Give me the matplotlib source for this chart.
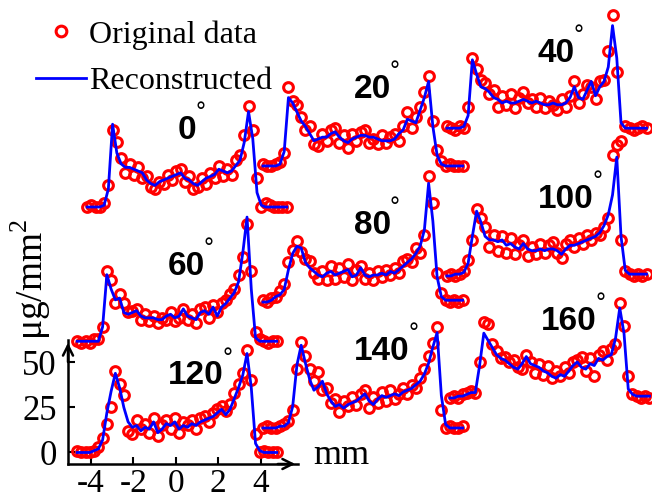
"""
projection profiles at several angles, measured vs reconstructed
"""

import numpy as np
import matplotlib.pyplot as plt

plt.rcParams["font.family"] = "Liberation Serif"
plt.rcParams["mathtext.fontset"] = "custom"
plt.rcParams["mathtext.rm"] = "Liberation Serif"
plt.rcParams["axes.unicode_minus"] = False

# sample positions (mm) of the 120 deg profile
x_mm = np.round(np.arange(48) * 0.2 - 4.64, 2)

angles = [0, 20, 40, 60, 80, 100, 120, 140, 160]

data_0 = [0,1,0,0,2,12,43,36,27,19, 24,18,22,16,17,11,10,14,13,18, 15,20,21,14,17,10,11,16,13,19,
          16,23,17,21,18,26,29,40,56,43, 16,0,2,1,0,0,0,0]
rec_0 = [0,0,0,0,1,10,46,30,24,22, 22,21,20,19,15,13,12,14,15,16, 17,18,19,16,15,13,12,14,16,17,
         18,21,20,19,20,23,26,36,53,38, 8,1,0,0,0,0,0,0]
data_20 = [1,0,0,1,2,7,44,36,34,27, 20,22,12,11,18,14,20,21,13,17, 10,18,14,19,20,13,15,12,17,13,
           16,18,14,22,30,21,27,33,41,50, 25,9,3,0,1,0,0,0]
rec_20 = [0,0,0,0,1,8,38,35,30,25, 22,18,14,15,16,16,18,19,16,14, 13,15,16,17,17,16,16,15,14,14,
          14,15,18,20,26,25,24,31,38,47, 22,6,1,0,0,0,0,0]
data_40 = [2,1,0,2,1,13,40,34,28,26, 20,22,13,19,14,20,12,18,21,15, 17,13,18,12,16,14,11,17,13,19,
           27,15,20,25,24,17,27,28,44,64, 32,-6,2,1,0,1,2,1]
rec_40 = [1,1,1,1,2,8,39,31,24,23, 21,18,17,15,16,15,15,16,17,16, 15,16,15,14,14,15,14,14,15,18,
          24,18,17,22,27,19,24,27,35,58, 40,4,1,1,1,1,1,1]
data_60 = [1,0,1,0,2,2,9,40,35,22, 27,22,17,18,19,13,16,12,15,11, 14,13,17,12,14,19,13,16,11,19,
           20,14,21,17,22,24,27,30,38,48, 66,40,6,2,1,0,1,1]
rec_60 = [1,1,1,1,1,1,9,38,30,24, 25,17,16,17,18,15,14,14,14,13, 13,15,16,14,15,19,15,14,13,17,
          18,16,20,15,20,22,25,28,34,50, 70,30,3,1,1,1,1,1]
data_80 = [1,0,2,3,6,10,22,29,34,28, 24,23,16,13,17,12,20,13,19,14, 21,12,18,20,13,16,12,17,14,18,
           15,19,16,23,24,22,30,27,37,70, 55,16,5,1,0,1,0,1]
rec_80 = [0,0,1,3,4,7,18,27,31,30, 22,19,17,15,14,16,17,15,16,17, 18,14,15,19,15,14,15,15,16,15,
          17,16,18,20,22,24,27,31,40,66, 45,14,3,1,1,1,1,1]
data_100 = [0,1,0,1,3,9,20,37,32,27, 16,23,14,22,13,21,12,17,20,11, 16,12,18,13,17,19,13,10,18,20,
            16,21,18,23,20,24,23,27,32,67, 73,20,3,1,0,1,0,1]
rec_100 = [0,0,1,1,2,7,22,36,30,22, 20,20,19,20,17,18,16,15,18,15, 14,14,15,14,15,15,14,12,15,17,
           17,18,19,20,21,22,24,28,34,45, 66,22,3,1,1,1,1,1]
data_120 = [1,0,0,0,1,3,8,16,25,45, 38,32,12,10,18,13,16,11,19,9, 15,18,13,19,11,17,15,18,13,19,
            20,17,22,24,26,23,27,33,38,44, 57,40,10,0,1,0,0,0]
rec_120 = [0,0,0,0,1,2,7,22,34,44, 36,25,17,14,15,12,14,13,17,11, 13,16,15,17,13,15,14,16,15,17,
           18,19,20,22,24,21,24,30,36,43, 55,36,5,1,0,0,0,0]
data_140 = [0,1,0,0,1,2,4,10,33,48, 40,33,26,31,21,22,14,16,9,15, 12,17,13,19,21,11,17,14,20,15,
            21,16,19,22,19,24,22,28,33,40, 47,56,10,0,1,0,0,1]
rec_140 = [0,0,0,0,1,1,3,12,35,46, 36,27,21,23,26,19,15,12,13,11, 13,14,15,17,19,15,13,16,18,17,
           18,19,18,20,21,22,24,26,30,36, 45,53,18,2,0,0,0,0]
data_160 = [0,1,0,2,3,4,3,20,42,41, 30,26,22,23,20,21,17,16,24,20, 14,19,13,18,11,15,12,17,14,20,
            21,23,15,22,12,24,26,21,27,30, 53,40,12,2,1,0,1,0]
rec_160 = [0,0,1,1,2,3,3,18,36,32, 28,24,22,21,19,17,16,19,23,19, 18,17,15,14,12,11,13,12,15,18,
           20,17,16,19,18,22,21,23,24,33, 50,36,5,2,1,1,1,1]

data_all = [data_0, data_20, data_40, data_60, data_80, data_100, data_120, data_140, data_160]
rec_all = [rec_0, rec_20, rec_40, rec_60, rec_80, rec_100, rec_120, rec_140, rec_160]

# where each profile sits on the page (shift in mm, shift in ug/mm2)
shift_x = [0.47, 8.75, 17.41, 0.0, 8.75, 17.41, 0.0, 8.75, 17.55]
shift_y = [136.4, 159.2, 179.2, 60.8, 83.6, 98.1, 0.0, 13.6, 30.3]

fig = plt.figure(figsize=(6.52, 5.01), dpi=100)
ax = fig.add_axes([68 / 652, 37 / 501, 230 / 652, 124 / 501])

handles = None
for ang, d, r, sx, sy in zip(angles, data_all, rec_all, shift_x, shift_y):
    xs = x_mm + sx
    pts, = ax.plot(xs, np.array(d) + sy, "o", mfc="none", mec="red", ms=7, mew=2.2,
                   clip_on=False, zorder=3)
    ln, = ax.plot(xs, np.array(r) + sy, color="blue", lw=2.0, clip_on=False, zorder=4)
    if handles is None:
        handles = [pts, ln]
    t = ax.text(x_mm[0] + sx + 4.28, sy + 37.8, str(ang), fontsize=24, fontweight="bold",
                family="Liberation Sans", ha="left", va="baseline")
    ax.annotate("°", xy=(1, 1), xycoords=t, xytext=(-1, 10), textcoords="offset points",
                fontsize=18, family="Liberation Sans", ha="left", va="top")

ax.set_xlim(-5.07, 5.76)
ax.set_ylim(-6.4, 62.5)
ax.set_xticks([-4, -2, 0, 2, 4])
ax.set_yticks([0, 25, 50])
ax.tick_params(direction="in", length=5, width=1.5, labelsize=25, pad=8)
ax.tick_params(axis="x", pad=3, labelsize=24)
ax.spines.right.set_visible(False)
ax.spines.top.set_visible(False)
ax.spines.left.set_linewidth(1.8)
ax.spines.bottom.set_linewidth(1.8)
ax.patch.set_alpha(0)
ax.annotate("", xy=(1, 0), xytext=(0.9, 0), xycoords="axes fraction",
            arrowprops=dict(arrowstyle="->", lw=1.8, color="k", mutation_scale=18))
ax.annotate("", xy=(0, 1), xytext=(0, 0.8), xycoords="axes fraction",
            arrowprops=dict(arrowstyle="->", lw=1.8, color="k", mutation_scale=18))

fig.text(313 / 652, 1 - 456 / 501, "mm", fontsize=26, ha="left", va="center")
fig.text(31 / 652, 1 - 279 / 501, "μg/mm$^2$", fontsize=27, rotation=90,
         ha="center", va="center")

fig.legend(handles, ["Original data", "Reconstructed"], loc="upper left",
           bbox_to_anchor=(36 / 652, 1 - 20 / 501), frameon=False, fontsize=23,
           handlelength=1.55, handletextpad=0.1, labelspacing=0.55, borderpad=0,
           borderaxespad=0, markerscale=1.1)

fig.savefig("out.png", dpi=100)
